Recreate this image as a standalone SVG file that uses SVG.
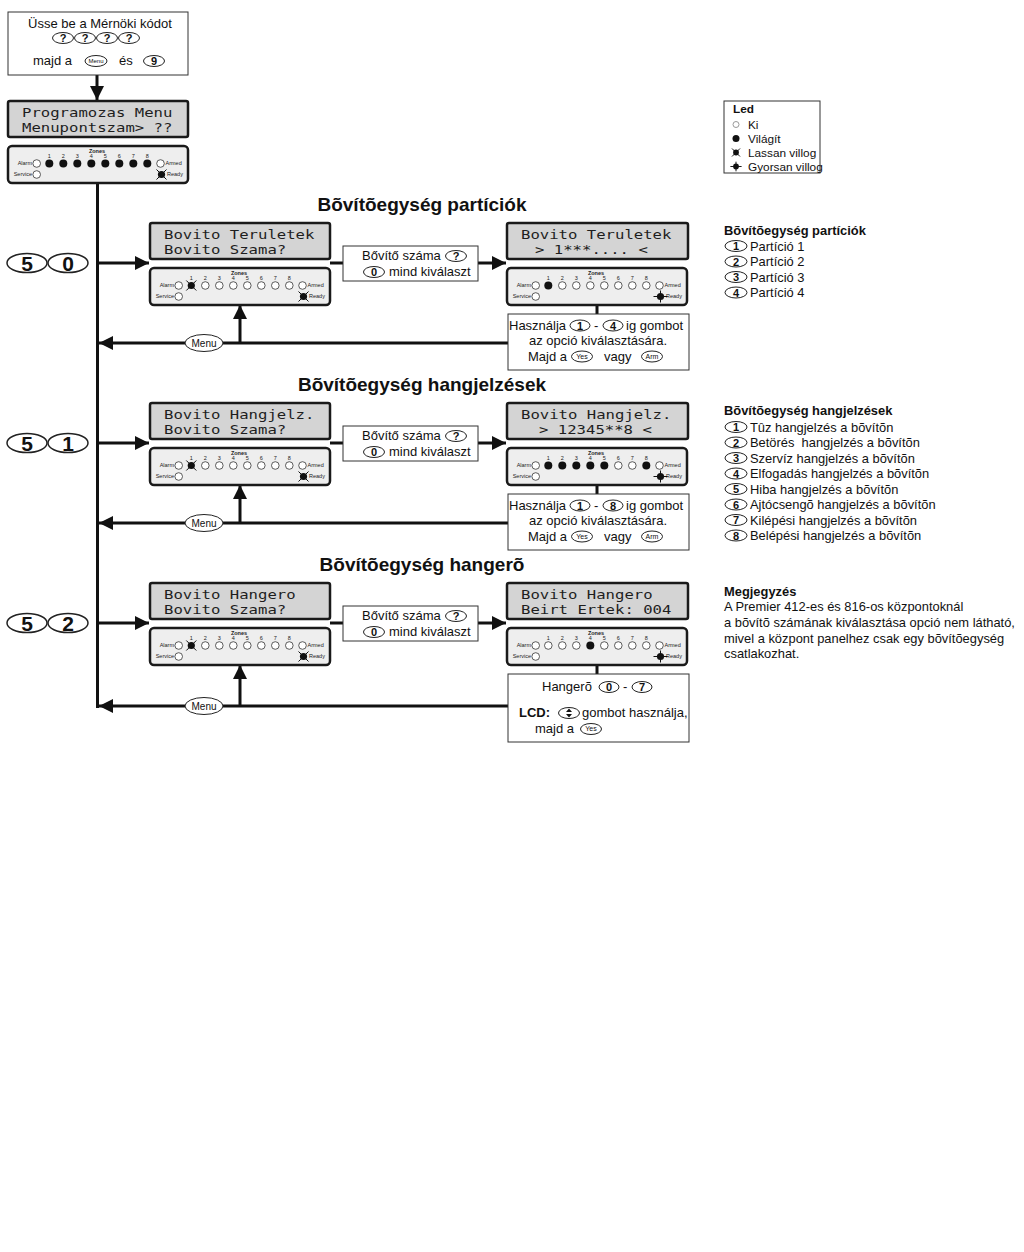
<svg xmlns="http://www.w3.org/2000/svg" xmlns:xlink="http://www.w3.org/1999/xlink" width="1024" height="1252" viewBox="0 0 1024 1252">
<style>
.lcd{fill:#d4d4d4;stroke:#1a1a1a;stroke-width:2.5}
.lcdt{font-family:"DejaVu Sans Mono","Liberation Mono",monospace;font-size:13px;fill:#1e1e1e}
.panel{fill:#eeeeee;stroke:#1a1a1a;stroke-width:2.5}
.box{fill:#fff;stroke:#333;stroke-width:1}
.t{font-family:"Liberation Sans",Arial,sans-serif;font-size:13px;fill:#111}
.lg{font-family:"Liberation Sans",Arial,sans-serif;font-size:12.9px;fill:#111}
.ll{font-family:"Liberation Sans",Arial,sans-serif;font-size:11.8px;fill:#111}
.b{font-weight:bold}
.h{font-family:"Liberation Sans",Arial,sans-serif;font-size:19px;font-weight:bold;fill:#111;text-anchor:middle}
.key{fill:#fff;stroke:#222;stroke-width:1}
.kt{font-family:"Liberation Sans",Arial,sans-serif;font-weight:bold;font-size:11px;text-anchor:middle;fill:#111}
.big{fill:#fff;stroke:#222;stroke-width:1.5}
.bigt{font-family:"Liberation Sans",Arial,sans-serif;font-weight:bold;font-size:21px;text-anchor:middle;fill:#111}
.pt{font-family:"Liberation Sans",Arial,sans-serif;font-size:5.5px;fill:#222}
.ln{stroke:#111;stroke-width:3;fill:none}
.off{fill:#fff;stroke:#333;stroke-width:0.8}
</style>
<defs>
<marker id="ah" markerUnits="userSpaceOnUse" markerWidth="14" markerHeight="14" refX="14" refY="7" orient="auto"><path d="M0,0 L14,7 L0,14 z" fill="#111"/></marker>
<g id="off"><circle r="3.8" class="off"/></g>
<g id="on"><circle r="4" fill="#111"/></g>
<g id="slow"><circle r="3.6" fill="#111"/><path d="M-5,-5 L5,5 M5,-5 L-5,5" stroke="#111" stroke-width="1"/></g>
<g id="fast"><circle r="3.6" fill="#111"/><path d="M-7,0 H7 M0,-6 V6" stroke="#111" stroke-width="1"/></g>
<g id="pb">
<rect x="0" y="0" width="180" height="37" rx="4" class="panel"/>
<text x="89" y="6.5" class="pt" text-anchor="middle" font-weight="bold">Zones</text>
<g class="pt" text-anchor="middle">
<text x="41.3" y="12">1</text><text x="55.3" y="12">2</text><text x="69.3" y="12">3</text><text x="83.3" y="11.5">4</text><text x="97.3" y="11.5">5</text><text x="111.3" y="12">6</text><text x="125.3" y="12">7</text><text x="139.3" y="12">8</text>
</g>
<text x="24" y="19.4" class="pt" text-anchor="end">Alarm</text>
<use xlink:href="#off" x="28.7" y="17.5"/>
<use xlink:href="#off" x="152.5" y="17.5"/>
<text x="157.5" y="19.4" class="pt">Armed</text>
<text x="24" y="30.4" class="pt" text-anchor="end">Service</text>
<use xlink:href="#off" x="28.7" y="28.5"/>
<text x="159" y="30.4" class="pt">Ready</text>
</g>
<g id="menuk"><ellipse rx="19" ry="8.5" class="key" stroke-width="1.2"/><text y="3.5" font-family="Liberation Sans, Arial, sans-serif" font-size="10" text-anchor="middle" fill="#111">Menu</text></g>
<g id="yes"><ellipse rx="10.5" ry="5.5" class="key"/><text y="2.4" font-family="Liberation Sans, Arial, sans-serif" font-size="7" text-anchor="middle" fill="#111">Yes</text></g>
<g id="arm"><ellipse rx="10.5" ry="5.5" class="key"/><text y="2.4" font-family="Liberation Sans, Arial, sans-serif" font-size="7" text-anchor="middle" fill="#111">Arm</text></g>
</defs>
<rect width="1024" height="1252" fill="#fff"/>

<g id="connectors">
<line x1="97" y1="75" x2="97" y2="100" class="ln" marker-end="url(#ah)"/>
<line x1="97.5" y1="183" x2="97.5" y2="708" class="ln"/>
<line x1="97" y1="263" x2="149" y2="263" class="ln" marker-end="url(#ah)"/>
<line x1="330" y1="263" x2="343" y2="263" class="ln"/>
<line x1="478" y1="263" x2="506" y2="263" class="ln" marker-end="url(#ah)"/>
<line x1="597" y1="304" x2="597" y2="314" class="ln"/>
<line x1="508" y1="343" x2="99" y2="343" class="ln" marker-end="url(#ah)"/>
<line x1="240" y1="343" x2="240" y2="305" class="ln" marker-end="url(#ah)"/>
<line x1="97" y1="443" x2="149" y2="443" class="ln" marker-end="url(#ah)"/>
<line x1="330" y1="443" x2="343" y2="443" class="ln"/>
<line x1="478" y1="443" x2="506" y2="443" class="ln" marker-end="url(#ah)"/>
<line x1="597" y1="484" x2="597" y2="494" class="ln"/>
<line x1="508" y1="523" x2="99" y2="523" class="ln" marker-end="url(#ah)"/>
<line x1="240" y1="523" x2="240" y2="485" class="ln" marker-end="url(#ah)"/>
<line x1="97" y1="623" x2="149" y2="623" class="ln" marker-end="url(#ah)"/>
<line x1="330" y1="623" x2="343" y2="623" class="ln"/>
<line x1="478" y1="623" x2="506" y2="623" class="ln" marker-end="url(#ah)"/>
<line x1="597" y1="664" x2="597" y2="674" class="ln"/>
<line x1="508" y1="706" x2="99" y2="706" class="ln" marker-end="url(#ah)"/>
<line x1="240" y1="706" x2="240" y2="665" class="ln" marker-end="url(#ah)"/>
</g>

<g id="n-start">
<rect x="8" y="12" width="180" height="63" class="box"/>
<text x="100" y="28" class="t" text-anchor="middle">Üsse be a Mérnöki kódot</text>
<ellipse cx="63" cy="38" rx="10.5" ry="5.5" class="key"/><text x="63" y="42" class="kt">?</text>
<ellipse cx="85" cy="38" rx="10.5" ry="5.5" class="key"/><text x="85" y="42" class="kt">?</text>
<ellipse cx="107" cy="38" rx="10.5" ry="5.5" class="key"/><text x="107" y="42" class="kt">?</text>
<ellipse cx="129" cy="38" rx="10.5" ry="5.5" class="key"/><text x="129" y="42" class="kt">?</text>
<text x="33" y="65" class="t">majd a</text>
<ellipse cx="96" cy="61" rx="11" ry="5.5" class="key"/><text x="96" y="63" font-family="Liberation Sans, Arial, sans-serif" font-size="6" text-anchor="middle" fill="#111">Menu</text>
<text x="119" y="65" class="t">és</text>
<ellipse cx="154" cy="61" rx="10.5" ry="5.5" class="key"/><text x="154" y="65" class="kt">9</text>
</g>

<g id="n-prog-lcd">
<rect x="8" y="101" width="180" height="36" rx="2" class="lcd"/>
<text x="22" y="117" class="lcdt" textLength="150.4" lengthAdjust="spacingAndGlyphs" xml:space="preserve">Programozas Menu</text>
<text x="22" y="132" class="lcdt" textLength="150.4" lengthAdjust="spacingAndGlyphs" xml:space="preserve">Menupontszam&gt; ??</text>
</g>
<g id="n-prog-panel">
<use xlink:href="#pb" x="8" y="146"/>
<use xlink:href="#on" x="49.3" y="163.5"/><use xlink:href="#on" x="63.3" y="163.5"/><use xlink:href="#on" x="77.3" y="163.5"/><use xlink:href="#on" x="91.3" y="163.5"/>
<use xlink:href="#on" x="105.3" y="163.5"/><use xlink:href="#on" x="119.3" y="163.5"/><use xlink:href="#on" x="133.3" y="163.5"/><use xlink:href="#on" x="147.3" y="163.5"/>
<use xlink:href="#slow" x="161.5" y="174.5"/>
</g>

<g id="n-led-legend">
<rect x="724" y="101" width="96" height="72" fill="#fff" stroke="#333" stroke-width="1"/>
<text x="733" y="113" class="ll b">Led</text>
<circle cx="736" cy="124.5" r="3" fill="#fff" stroke="#999" stroke-width="1"/>
<text x="748" y="129" class="ll">Ki</text>
<circle cx="736" cy="138.5" r="3.5" fill="#111"/>
<text x="748" y="143" class="ll">Világít</text>
<g transform="translate(736,152.5) scale(0.8)"><circle r="3.6" fill="#111"/><path d="M-5,-5 L5,5 M5,-5 L-5,5" stroke="#111" stroke-width="1.2"/></g>
<text x="748" y="157" class="ll">Lassan villog</text>
<g transform="translate(736,166.5) scale(0.8)"><circle r="3.6" fill="#111"/><path d="M-7,0 H7 M0,-6 V6" stroke="#111" stroke-width="1.2"/></g>
<text x="748" y="171" class="ll">Gyorsan villog</text>
</g>

<!-- Section 50 -->
<text id="h50" x="422" y="211" class="h">Bõvítõegység partíciók</text>
<g id="n50-key">
<ellipse cx="27" cy="263" rx="20" ry="9.5" class="big"/><text x="27" y="271" class="bigt">5</text>
<ellipse cx="68" cy="263" rx="20" ry="9.5" class="big"/><text x="68" y="271" class="bigt">0</text>
</g>
<g id="n50-lcd">
<rect x="150" y="223" width="180" height="36" rx="2" class="lcd"/>
<text x="164" y="239" class="lcdt" textLength="150.4" lengthAdjust="spacingAndGlyphs" xml:space="preserve">Bovito Teruletek</text>
<text x="164" y="254" class="lcdt" textLength="122.2" lengthAdjust="spacingAndGlyphs" xml:space="preserve">Bovito Szama?</text>
</g>
<g id="n50-panel">
<use xlink:href="#pb" x="150" y="268"/>
<use xlink:href="#slow" x="191.3" y="285.5"/>
<use xlink:href="#off" x="205.3" y="285.5"/><use xlink:href="#off" x="219.3" y="285.5"/><use xlink:href="#off" x="233.3" y="285.5"/><use xlink:href="#off" x="247.3" y="285.5"/>
<use xlink:href="#off" x="261.3" y="285.5"/><use xlink:href="#off" x="275.3" y="285.5"/><use xlink:href="#off" x="289.3" y="285.5"/>
<use xlink:href="#slow" x="303.5" y="296.5"/>
</g>
<g id="n50-mid">
<rect x="343" y="246" width="135" height="35" class="box"/>
<text x="362" y="260" class="t">Bővítő száma</text>
<ellipse cx="456" cy="256" rx="10.5" ry="5.5" class="key"/><text x="456" y="260" class="kt">?</text>
<ellipse cx="374" cy="272" rx="10.5" ry="5.5" class="key"/><text x="374" y="276" class="kt">0</text>
<text x="389" y="276" class="t">mind kiválaszt</text>
</g>
<g id="n50-lcd-r">
<rect x="507" y="223" width="181" height="36" rx="2" class="lcd"/>
<text x="521" y="239" class="lcdt" textLength="150.4" lengthAdjust="spacingAndGlyphs" xml:space="preserve">Bovito Teruletek</text>
<text x="535" y="254" class="lcdt" textLength="112.8" lengthAdjust="spacingAndGlyphs" xml:space="preserve">&gt; 1***.... &lt;</text>
</g>
<g id="n50-panel-r">
<use xlink:href="#pb" x="507" y="268"/>
<use xlink:href="#on" x="548.3" y="285.5"/>
<use xlink:href="#off" x="562.3" y="285.5"/><use xlink:href="#off" x="576.3" y="285.5"/><use xlink:href="#off" x="590.3" y="285.5"/><use xlink:href="#off" x="604.3" y="285.5"/>
<use xlink:href="#off" x="618.3" y="285.5"/><use xlink:href="#off" x="632.3" y="285.5"/><use xlink:href="#off" x="646.3" y="285.5"/>
<use xlink:href="#fast" x="660.5" y="296.5"/>
</g>
<g id="n50-help">
<rect x="508" y="314" width="181" height="56" class="box"/>
<text x="509" y="330" class="t">Használja</text>
<ellipse cx="580" cy="325.5" rx="10" ry="5.5" class="key"/><text x="580" y="329.5" class="kt">1</text>
<text x="594" y="330" class="t">-</text>
<ellipse cx="613" cy="325.5" rx="10" ry="5.5" class="key"/><text x="613" y="329.5" class="kt">4</text>
<text x="626" y="330" class="t">ig gombot</text>
<text x="598" y="345" class="t" text-anchor="middle">az opció kiválasztására.</text>
<text x="528" y="361" class="t">Majd a</text>
<use xlink:href="#yes" x="582" y="356.5"/>
<text x="604" y="361" class="t">vagy</text>
<use xlink:href="#arm" x="652" y="356.5"/>
</g>
<g id="n50-menu"><use xlink:href="#menuk" x="204" y="343"/></g>

<!-- Section 51 -->
<text id="h51" x="422" y="391" class="h">Bõvítõegység hangjelzések</text>
<g id="n51-key">
<ellipse cx="27" cy="443" rx="20" ry="9.5" class="big"/><text x="27" y="451" class="bigt">5</text>
<ellipse cx="68" cy="443" rx="20" ry="9.5" class="big"/><text x="68" y="451" class="bigt">1</text>
</g>
<g id="n51-lcd">
<rect x="150" y="403" width="180" height="36" rx="2" class="lcd"/>
<text x="164" y="419" class="lcdt" textLength="150.4" lengthAdjust="spacingAndGlyphs" xml:space="preserve">Bovito Hangjelz.</text>
<text x="164" y="434" class="lcdt" textLength="122.2" lengthAdjust="spacingAndGlyphs" xml:space="preserve">Bovito Szama?</text>
</g>
<g id="n51-panel">
<use xlink:href="#pb" x="150" y="448"/>
<use xlink:href="#slow" x="191.3" y="465.5"/>
<use xlink:href="#off" x="205.3" y="465.5"/><use xlink:href="#off" x="219.3" y="465.5"/><use xlink:href="#off" x="233.3" y="465.5"/><use xlink:href="#off" x="247.3" y="465.5"/>
<use xlink:href="#off" x="261.3" y="465.5"/><use xlink:href="#off" x="275.3" y="465.5"/><use xlink:href="#off" x="289.3" y="465.5"/>
<use xlink:href="#slow" x="303.5" y="476.5"/>
</g>
<g id="n51-mid">
<rect x="343" y="426" width="135" height="35" class="box"/>
<text x="362" y="440" class="t">Bővítő száma</text>
<ellipse cx="456" cy="436" rx="10.5" ry="5.5" class="key"/><text x="456" y="440" class="kt">?</text>
<ellipse cx="374" cy="452" rx="10.5" ry="5.5" class="key"/><text x="374" y="456" class="kt">0</text>
<text x="389" y="456" class="t">mind kiválaszt</text>
</g>
<g id="n51-lcd-r">
<rect x="507" y="403" width="181" height="36" rx="2" class="lcd"/>
<text x="521" y="419" class="lcdt" textLength="150.4" lengthAdjust="spacingAndGlyphs" xml:space="preserve">Bovito Hangjelz.</text>
<text x="539" y="434" class="lcdt" textLength="112.8" lengthAdjust="spacingAndGlyphs" xml:space="preserve">&gt; 12345**8 &lt;</text>
</g>
<g id="n51-panel-r">
<use xlink:href="#pb" x="507" y="448"/>
<use xlink:href="#on" x="548.3" y="465.5"/><use xlink:href="#on" x="562.3" y="465.5"/><use xlink:href="#on" x="576.3" y="465.5"/><use xlink:href="#on" x="590.3" y="465.5"/><use xlink:href="#on" x="604.3" y="465.5"/>
<use xlink:href="#off" x="618.3" y="465.5"/><use xlink:href="#off" x="632.3" y="465.5"/><use xlink:href="#on" x="646.3" y="465.5"/>
<use xlink:href="#fast" x="660.5" y="476.5"/>
</g>
<g id="n51-help">
<rect x="508" y="494" width="181" height="56" class="box"/>
<text x="509" y="510" class="t">Használja</text>
<ellipse cx="580" cy="505.5" rx="10" ry="5.5" class="key"/><text x="580" y="509.5" class="kt">1</text>
<text x="594" y="510" class="t">-</text>
<ellipse cx="613" cy="505.5" rx="10" ry="5.5" class="key"/><text x="613" y="509.5" class="kt">8</text>
<text x="626" y="510" class="t">ig gombot</text>
<text x="598" y="525" class="t" text-anchor="middle">az opció kiválasztására.</text>
<text x="528" y="541" class="t">Majd a</text>
<use xlink:href="#yes" x="582" y="536.5"/>
<text x="604" y="541" class="t">vagy</text>
<use xlink:href="#arm" x="652" y="536.5"/>
</g>
<g id="n51-menu"><use xlink:href="#menuk" x="204" y="523"/></g>

<!-- Section 52 -->
<text id="h52" x="422" y="571" class="h">Bõvítõegység hangerõ</text>
<g id="n52-key">
<ellipse cx="27" cy="623" rx="20" ry="9.5" class="big"/><text x="27" y="631" class="bigt">5</text>
<ellipse cx="68" cy="623" rx="20" ry="9.5" class="big"/><text x="68" y="631" class="bigt">2</text>
</g>
<g id="n52-lcd">
<rect x="150" y="583" width="180" height="36" rx="2" class="lcd"/>
<text x="164" y="599" class="lcdt" textLength="131.6" lengthAdjust="spacingAndGlyphs" xml:space="preserve">Bovito Hangero</text>
<text x="164" y="614" class="lcdt" textLength="122.2" lengthAdjust="spacingAndGlyphs" xml:space="preserve">Bovito Szama?</text>
</g>
<g id="n52-panel">
<use xlink:href="#pb" x="150" y="628"/>
<use xlink:href="#slow" x="191.3" y="645.5"/>
<use xlink:href="#off" x="205.3" y="645.5"/><use xlink:href="#off" x="219.3" y="645.5"/><use xlink:href="#off" x="233.3" y="645.5"/><use xlink:href="#off" x="247.3" y="645.5"/>
<use xlink:href="#off" x="261.3" y="645.5"/><use xlink:href="#off" x="275.3" y="645.5"/><use xlink:href="#off" x="289.3" y="645.5"/>
<use xlink:href="#slow" x="303.5" y="656.5"/>
</g>
<g id="n52-mid">
<rect x="343" y="606" width="135" height="35" class="box"/>
<text x="362" y="620" class="t">Bővítő száma</text>
<ellipse cx="456" cy="616" rx="10.5" ry="5.5" class="key"/><text x="456" y="620" class="kt">?</text>
<ellipse cx="374" cy="632" rx="10.5" ry="5.5" class="key"/><text x="374" y="636" class="kt">0</text>
<text x="389" y="636" class="t">mind kiválaszt</text>
</g>
<g id="n52-lcd-r">
<rect x="507" y="583" width="181" height="36" rx="2" class="lcd"/>
<text x="521" y="599" class="lcdt" textLength="131.6" lengthAdjust="spacingAndGlyphs" xml:space="preserve">Bovito Hangero</text>
<text x="521" y="614" class="lcdt" textLength="150.4" lengthAdjust="spacingAndGlyphs" xml:space="preserve">Beirt Ertek: 004</text>
</g>
<g id="n52-panel-r">
<use xlink:href="#pb" x="507" y="628"/>
<use xlink:href="#off" x="548.3" y="645.5"/><use xlink:href="#off" x="562.3" y="645.5"/><use xlink:href="#off" x="576.3" y="645.5"/><use xlink:href="#on" x="590.3" y="645.5"/><use xlink:href="#off" x="604.3" y="645.5"/>
<use xlink:href="#off" x="618.3" y="645.5"/><use xlink:href="#off" x="632.3" y="645.5"/><use xlink:href="#off" x="646.3" y="645.5"/>
<use xlink:href="#fast" x="660.5" y="656.5"/>
</g>
<g id="n52-help">
<rect x="508" y="674" width="181" height="68" class="box"/>
<text x="542" y="691" class="t">Hangerõ</text>
<ellipse cx="609" cy="687" rx="10" ry="5.5" class="key"/><text x="609" y="691" class="kt">0</text>
<text x="623" y="691" class="t">-</text>
<ellipse cx="642" cy="687" rx="10" ry="5.5" class="key"/><text x="642" y="691" class="kt">7</text>
<text x="519" y="717" class="t b">LCD:</text>
<ellipse cx="569" cy="713" rx="10.5" ry="5.5" class="key"/>
<path d="M569,708.5 L566,712 L572,712 z M569,717.5 L566,714 L572,714 z" fill="#111"/>
<text x="582" y="717" class="t" font-size="12.5">gombot használja,</text>
<text x="535" y="733" class="t">majd a</text>
<use xlink:href="#yes" x="591" y="729"/>
</g>
<g id="n52-menu"><use xlink:href="#menuk" x="204" y="706"/></g>

<!-- legends -->
<g id="n-legend-50">
<text x="724" y="235" class="lg b">Bõvítõegység partíciók</text>
<ellipse cx="736" cy="246" rx="11" ry="5.5" class="key"/><text x="736" y="250" class="kt" font-size="10">1</text><text x="750" y="250.5" class="lg">Partíció 1</text>
<ellipse cx="736" cy="261.5" rx="11" ry="5.5" class="key"/><text x="736" y="265.5" class="kt" font-size="10">2</text><text x="750" y="266" class="lg">Partíció 2</text>
<ellipse cx="736" cy="277" rx="11" ry="5.5" class="key"/><text x="736" y="281" class="kt" font-size="10">3</text><text x="750" y="281.5" class="lg">Partíció 3</text>
<ellipse cx="736" cy="292.5" rx="11" ry="5.5" class="key"/><text x="736" y="296.5" class="kt" font-size="10">4</text><text x="750" y="297" class="lg">Partíció 4</text>
</g>
<g id="n-legend-51">
<text x="724" y="415" class="lg b">Bõvítõegység hangjelzések</text>
<ellipse cx="736" cy="427" rx="11" ry="5.5" class="key"/><text x="736" y="431" class="kt" font-size="10">1</text><text x="750" y="431.5" class="lg">Tûz hangjelzés a bõvítõn</text>
<ellipse cx="736" cy="442.5" rx="11" ry="5.5" class="key"/><text x="736" y="446.5" class="kt" font-size="10">2</text><text x="750" y="447" class="lg" xml:space="preserve">Betörés  hangjelzés a bõvítõn</text>
<ellipse cx="736" cy="458" rx="11" ry="5.5" class="key"/><text x="736" y="462" class="kt" font-size="10">3</text><text x="750" y="462.5" class="lg">Szervíz hangjelzés a bõvítõn</text>
<ellipse cx="736" cy="473.5" rx="11" ry="5.5" class="key"/><text x="736" y="477.5" class="kt" font-size="10">4</text><text x="750" y="478" class="lg">Elfogadás hangjelzés a bõvítõn</text>
<ellipse cx="736" cy="489" rx="11" ry="5.5" class="key"/><text x="736" y="493" class="kt" font-size="10">5</text><text x="750" y="493.5" class="lg">Hiba hangjelzés a bõvítõn</text>
<ellipse cx="736" cy="504.5" rx="11" ry="5.5" class="key"/><text x="736" y="508.5" class="kt" font-size="10">6</text><text x="750" y="509" class="lg">Ajtócsengõ hangjelzés a bõvítõn</text>
<ellipse cx="736" cy="520" rx="11" ry="5.5" class="key"/><text x="736" y="524" class="kt" font-size="10">7</text><text x="750" y="524.5" class="lg">Kilépési hangjelzés a bõvítõn</text>
<ellipse cx="736" cy="535.5" rx="11" ry="5.5" class="key"/><text x="736" y="539.5" class="kt" font-size="10">8</text><text x="750" y="540" class="lg">Belépési hangjelzés a bõvítõn</text>
</g>
<g id="n-note">
<text x="724" y="596" class="lg b">Megjegyzés</text>
<text x="724" y="611" class="lg">A Premier 412-es és 816-os központoknál</text>
<text x="724" y="627" class="lg">a bõvítõ számának kiválasztása opció nem látható,</text>
<text x="724" y="642.5" class="lg">mivel a központ panelhez csak egy bõvítõegység</text>
<text x="724" y="658" class="lg">csatlakozhat.</text>
</g>
</svg>
